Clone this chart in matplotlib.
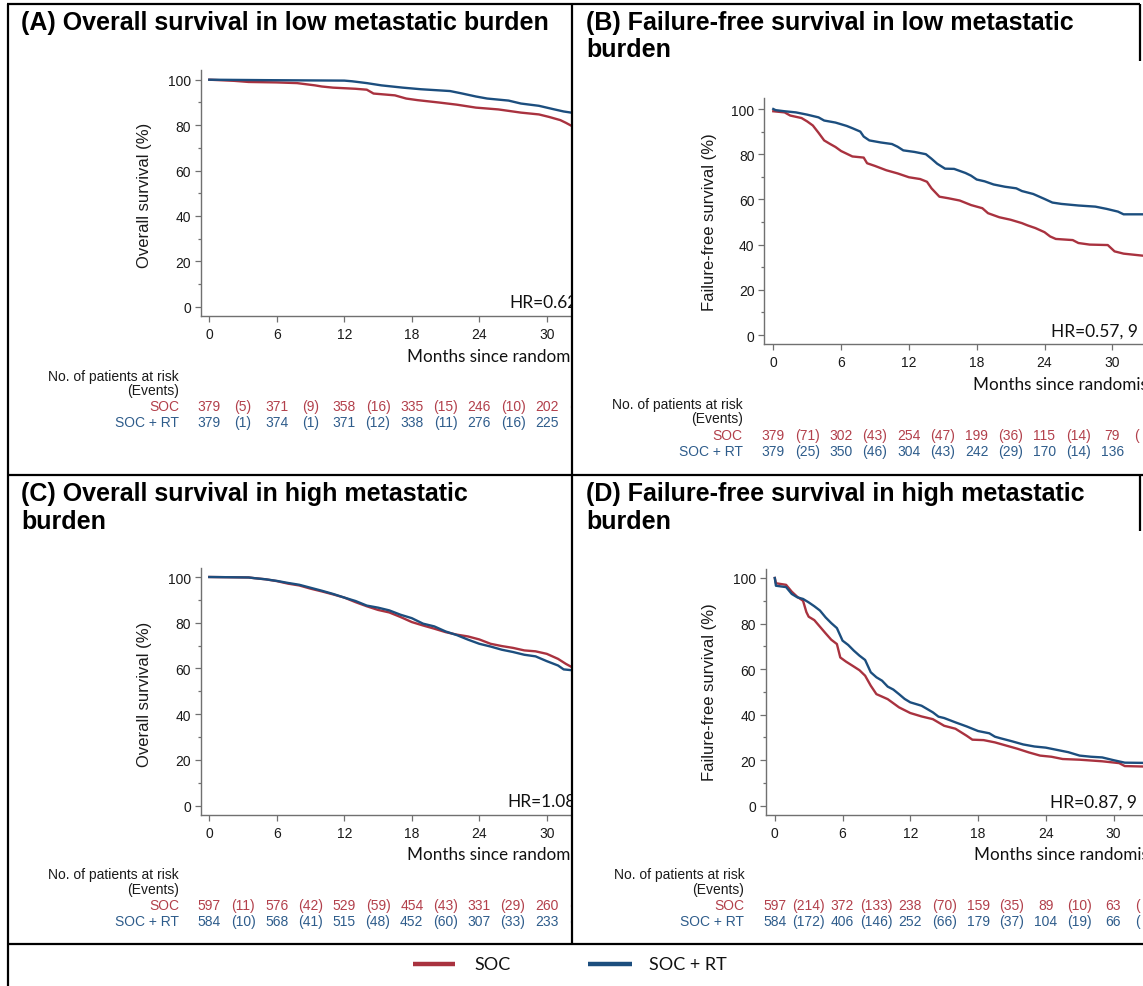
import matplotlib
matplotlib.use("Agg")
import matplotlib.pyplot as plt
from matplotlib.lines import Line2D
from matplotlib.transforms import blended_transform_factory
from matplotlib.ticker import MultipleLocator

plt.rcParams['font.family'] = ['Liberation Sans', 'DejaVu Sans']

W, H = 1143, 987

# ---------------- data ----------------
month_ticks = [0, 6, 12, 18, 24, 30]
event_mid = [3, 9, 15, 21, 27]

# (A) Overall survival, low metastatic burden
a_soc_t = [0, 2.2, 3.5, 6, 7.8, 9.4, 10, 11, 13, 14, 14.6, 16.5, 17.5, 18.5, 20.5, 22, 23.7, 25.7, 27.7, 29.3, 30.2, 31.2, 31.7, 32.3]
a_soc_s = [100, 99.5, 99, 98.8, 98.5, 97.5, 97, 96.5, 96, 95.6, 93.9, 93.1, 91.7, 91, 89.9, 89, 87.7, 86.9, 85.5, 84.7, 83.6, 82.2, 81, 79.4]
a_rt_t = [0, 5, 12, 12.7, 14, 15.3, 17.2, 18.8, 21.4, 22.4, 23.7, 24.7, 26.6, 27.7, 29.3, 30.6, 31.5, 32.3]
a_rt_s = [100, 99.8, 99.6, 99.3, 98.5, 97.5, 96.5, 95.8, 95, 94, 92.6, 91.7, 90.8, 89.5, 88.5, 87, 86, 85.4]
a_soc_risk = [379, 371, 358, 335, 246, 202]
a_soc_events = [5, 9, 16, 15, 10]
a_rt_risk = [379, 374, 371, 338, 276, 225]
a_rt_events = [1, 1, 12, 11, 16]
a_hr = "HR=0.62"

# (B) Failure-free survival, low metastatic burden
b_soc_t = [0, 1, 1.5, 2.5, 3, 3.5, 4, 4.5, 5, 5.5, 6, 6.5, 7, 8, 8.3, 9, 10, 11, 12, 13, 13.6, 14, 14.7, 15.5,
           16.5, 17, 17.5, 18.5, 19, 20, 21, 22, 22.5, 23.2, 24, 24.5, 25, 26.5, 27, 28, 29.6, 30.2, 31, 32.7]
b_soc_s = [99, 98.5, 97.1, 96, 94.5, 92.7, 89.5, 86.1, 84.6, 83.2, 81.4, 80.2, 79, 78.5, 76, 74.8, 72.9, 71.5, 69.8, 69, 67.8, 64.9, 61.2, 60.5,
           59.5, 58.5, 57.5, 56.1, 53.9, 52.1, 51, 49.5, 48.5, 47.3, 45.5, 43.6, 42.5, 42, 40.7, 40, 39.8, 37, 36, 35.1]
b_rt_t = [0, 0.2, 1, 2, 3, 4, 4.5, 5.5, 6.5, 7, 7.7, 8, 8.5, 9.5, 10.5, 11, 11.5, 12.5, 13.5, 14, 14.5, 15.2, 16, 17, 17.5,
          18, 18.7, 19.5, 20.5, 21.5, 22, 23, 24, 24.7, 25.5, 27, 28.5, 29.5, 30.5, 31, 32.7]
b_rt_s = [100, 99.5, 99, 98.5, 97.5, 96.3, 94.9, 94, 92.5, 91.5, 90, 87.8, 86.1, 85.2, 84.5, 83.3, 81.7, 81, 80, 78, 75.8, 73.6, 73.5, 71.7, 70.5,
          68.8, 68, 66.6, 65.6, 64.9, 63.7, 62.4, 60.2, 58.6, 58, 57.3, 56.8, 55.8, 54.6, 53.4, 53.4]
b_soc_risk = [379, 302, 254, 199, 115, 79]
b_soc_events = [71, 43, 47, 36, 14]
b_rt_risk = [379, 350, 304, 242, 170, 136]
b_rt_events = [25, 46, 43, 29, 14]
b_hr = "HR=0.57, 9"

# (C) Overall survival, high metastatic burden
c_soc_t = [0, 3.5, 4, 5, 6, 7, 8, 9, 10, 11, 12, 13, 14, 15, 16, 17, 18, 19, 20, 21, 22, 23, 24, 25, 26, 27, 28, 29, 30, 31, 31.7, 32.3]
c_soc_s = [100, 99.8, 99.5, 99, 98.2, 97.1, 96.3, 94.9, 93.7, 92.4, 91, 89, 87.2, 85.6, 84.5, 82.5, 80.3, 78.8, 77.4, 75.9, 74.8, 74, 72.7,
           70.8, 69.8, 69, 67.9, 67.5, 66.4, 64.2, 62, 60.4]
c_rt_t = [0, 3.5, 4, 5, 6, 7, 8, 9, 10, 11, 12, 13, 14, 15, 16, 17, 18, 19, 20, 21, 22, 23, 24, 25, 26, 27, 28, 29, 30, 31, 31.5, 32.3]
c_rt_s = [100, 99.8, 99.5, 99, 98.3, 97.4, 96.6, 95.3, 94, 92.6, 91, 89.5, 87.5, 86.6, 85.4, 83.5, 82, 79.6, 78.4, 76.2, 74.6, 72.6, 70.8,
          69.6, 68.2, 67.2, 66, 65.3, 63.2, 61.3, 59.6, 59.2]
c_soc_risk = [597, 576, 529, 454, 331, 260]
c_soc_events = [11, 42, 59, 43, 29]
c_rt_risk = [584, 568, 515, 452, 307, 233]
c_rt_events = [10, 41, 48, 60, 33]
c_hr = "HR=1.08"

# (D) Failure-free survival, high metastatic burden
d_soc_t = [0, 0.1, 1, 1.5, 2, 2.5, 2.8, 3, 3.5, 4, 4.5, 5, 5.5, 5.8, 6.3, 7, 7.5, 8, 8.5, 9, 9.5, 10, 11, 12, 13, 14, 15, 16, 17,
           17.5, 18.5, 19.5, 20.5, 21.5, 22.5, 23.5, 24.5, 25.5, 27, 29, 30.5, 31, 32.7]
d_soc_s = [100, 97.7, 97, 94, 91.7, 90, 85, 83, 81.5, 78.6, 75.7, 72.9, 71, 65.1, 63.3, 61.1, 59.5, 57.1, 52.7, 49, 47.9, 46.8, 43.2,
           40.7, 39.2, 38, 35.1, 33.8, 30.7, 29, 28.8, 27.8, 26.4, 25, 23.4, 22, 21.5, 20.5, 20.2, 19.5, 18.7, 17.4, 17.2]
d_rt_t = [0, 0.1, 1, 1.5, 2, 2.5, 3, 3.5, 4, 4.5, 5, 5.5, 6, 6.5, 7, 7.5, 8, 8.5, 9, 9.5, 10, 10.5, 11, 11.5, 12, 13, 14, 14.5, 15,
          16, 17, 18, 19, 19.5, 20, 21, 22, 23, 24, 25, 26, 27, 28, 29, 30, 31, 32.7]
d_rt_s = [100, 96.6, 96, 93, 91.5, 90.8, 89.3, 87.6, 85.7, 82.7, 80.2, 78, 72.5, 70.6, 68.1, 65.9, 64, 58.6, 56.4, 54.9, 52.3, 51, 49,
          46.9, 45.4, 43.9, 41, 39.1, 38.5, 36.6, 34.8, 32.8, 31.8, 30.3, 29.6, 28.3, 26.9, 26, 25.5, 24.5, 23.5, 22, 21.5, 21.2, 20, 18.9, 18.8]
d_soc_risk = [597, 372, 238, 159, 89, 63]
d_soc_events = [214, 133, 70, 35, 10]
d_rt_risk = [584, 406, 252, 179, 104, 66]
d_rt_events = [172, 146, 66, 37, 19]
d_hr = "HR=0.87, 9"

labels = ["SOC", "SOC + RT"]

# ---------------- style ----------------
RED = '#A9323F'
BLUE = '#1C4E7E'
RED_T = '#B2404B'
BLUE_T = '#2E5C8B'
SPINE = '#707070'
ARIAL = ['Liberation Sans', 'DejaVu Sans']
CALI = ['Lato', 'DejaVu Sans']

fig = plt.figure(figsize=(W / 100, H / 100), dpi=100)
fig.patch.set_facecolor('white')


def fy(ypx):
    return 1 - ypx / H


def add_px_axes(x0, y0, x1, y1):
    return fig.add_axes([x0 / W, 1 - y1 / H, (x1 - x0) / W, (y1 - y0) / H])


def panel(box, axbox, m0, ppm, p0, ppp, title_lines, title_x, title_base, ylabel, ylab_xy,
          soc_t, soc_s, rt_t, rt_s, soc_risk, soc_ev, rt_risk, rt_ev, partial, hr, hr_x,
          months_y, months_x, risk_y):
    pax = add_px_axes(*box)
    pax.set_axis_off()
    ax = add_px_axes(*axbox)
    ax.set_facecolor('none')
    x0, ytop, x1, ybot = axbox
    ax.set_xlim((x0 - m0) / ppm, (x1 - m0) / ppm)
    ax.set_ylim((p0 - ybot) / ppp, (p0 - ytop) / ppp)
    ax.plot(soc_t, soc_s, color=RED, lw=1.7)
    ax.plot(rt_t, rt_s, color=BLUE, lw=1.7)
    for s in ['top', 'right']:
        ax.spines[s].set_visible(False)
    for s in ['left', 'bottom']:
        ax.spines[s].set_color(SPINE)
        ax.spines[s].set_linewidth(1.0)
    ax.set_xticks(month_ticks)
    ax.set_yticks([0, 20, 40, 60, 80, 100])
    ax.yaxis.set_minor_locator(MultipleLocator(10))
    ax.tick_params(axis='both', which='major', length=4.5, width=0.9, color=SPINE,
                   labelsize=10, labelcolor='#1a1a1a')
    ax.tick_params(axis='y', which='minor', length=2.5, width=0.9, color=SPINE)
    ax.tick_params(axis='x', pad=3.6)
    ax.tick_params(axis='y', pad=2.6)

    ax.text(hr_x, 2.0, hr, ha='left', va='center', fontsize=12.5, family=CALI,
            color='#111111', clip_on=True)

    tr = blended_transform_factory(ax.transData, fig.transFigure)
    pax.text(months_x, fy(months_y), "Months since randomisation", transform=tr,
             ha='left', va='center', fontsize=12.3, family=CALI, color='#111111', clip_on=True)

    for i, line in enumerate(title_lines):
        fig.text(title_x / W, fy(title_base[i]), line, ha='left', va='baseline',
                 fontsize=18, fontweight='bold', family=ARIAL, color='black')

    fig.text(ylab_xy[0] / W, fy(ylab_xy[1]), ylabel, rotation=90, ha='center', va='center',
             fontsize=12, family=ARIAL, color='#1a1a1a')

    lab_x = axbox[0] - 21.5
    hy, ey, sy, ry = risk_y
    fig.text(lab_x / W, fy(hy), "No. of patients at risk", ha='right', va='center',
             fontsize=10, family=ARIAL, color='#1a1a1a')
    fig.text(lab_x / W, fy(ey), "(Events)", ha='right', va='center',
             fontsize=10, family=ARIAL, color='#1a1a1a')
    fig.text(lab_x / W, fy(sy), labels[0], ha='right', va='center',
             fontsize=10, family=ARIAL, color=RED_T)
    fig.text(lab_x / W, fy(ry), labels[1], ha='right', va='center',
             fontsize=10, family=ARIAL, color=BLUE_T)
    for row_y, risk, ev, col, part in [(sy, soc_risk, soc_ev, RED_T, partial[0]),
                                       (ry, rt_risk, rt_ev, BLUE_T, partial[1])]:
        for m, n in zip(month_ticks, risk):
            pax.text(m, fy(row_y), str(n), transform=tr, ha='center', va='center',
                     fontsize=10, family=ARIAL, color=col, clip_on=True)
        for m, e in zip(event_mid, ev):
            pax.text(m, fy(row_y), "(%d)" % e, transform=tr, ha='center', va='center',
                     fontsize=10, family=ARIAL, color=col, clip_on=True)
        if part:
            pax.text(31.95, fy(row_y), "(", transform=tr, ha='left', va='center',
                     fontsize=10, family=ARIAL, color=col, clip_on=True)
    return ax


ax_a = panel((7, 5, 572, 476), (200.7, 71, 571, 316.7), 209.3, 11.25, 307.7, 2.27,
             ["(A) Overall survival in low metastatic burden"], 21, [30],
             "Overall survival (%)", (145, 195),
             a_soc_t, a_soc_s, a_rt_t, a_rt_s, a_soc_risk, a_soc_events, a_rt_risk, a_rt_events,
             (True, False), a_hr, 26.7, 357, 17.6, (377, 391, 407, 423))

ax_b = panel((572, 5, 1143, 476), (764.3, 99, 1143, 345), 773.3, 11.3, 336, 2.26,
             ["(B) Failure-free survival in low metastatic", "burden"], 586.5, [30, 57],
             "Failure-free survival (%)", (709.5, 222),
             b_soc_t, b_soc_s, b_rt_t, b_rt_s, b_soc_risk, b_soc_events, b_rt_risk, b_rt_events,
             (True, False), b_hr, 24.6, 385, 17.7, (405, 419, 436, 452))

ax_c = panel((7, 476, 572, 945), (200.7, 569, 571, 815.7), 209.3, 11.25, 806.7, 2.287,
             ["(C) Overall survival in high metastatic", "burden"], 21, [501, 529],
             "Overall survival (%)", (145, 694),
             c_soc_t, c_soc_s, c_rt_t, c_rt_s, c_soc_risk, c_soc_events, c_rt_risk, c_rt_events,
             (True, True), c_hr, 26.5, 855, 17.6, (875, 890, 906, 922))

ax_d = panel((572, 476, 1143, 945), (765.8, 570, 1143, 815.7), 774.8, 11.29, 806.7, 2.277,
             ["(D) Failure-free survival in high metastatic", "burden"], 586.5, [501, 529],
             "Failure-free survival (%)", (709.5, 692.5),
             d_soc_t, d_soc_s, d_rt_t, d_rt_s, d_soc_risk, d_soc_events, d_rt_risk, d_rt_events,
             (True, True), d_hr, 24.4, 855, 17.6, (875, 890, 906, 922))


def hline(y, x0, x1, lw=1.6):
    fig.add_artist(Line2D([x0 / W, x1 / W], [fy(y), fy(y)], transform=fig.transFigure,
                          color='black', lw=lw, solid_capstyle='butt'))


def vline(x, y0, y1, lw=1.6):
    fig.add_artist(Line2D([x / W, x / W], [fy(y0), fy(y1)], transform=fig.transFigure,
                          color='black', lw=lw, solid_capstyle='butt'))


hline(5, 7, 1140)
vline(7.5, 5, 987)
vline(572, 5, 945)
vline(1140, 5, 62)
hline(476, 7, 1143)
vline(1140, 476, 532)
hline(945, 7, 1143)

fig.add_artist(Line2D([413 / W, 455 / W], [fy(965), fy(965)], transform=fig.transFigure,
                      color=RED, lw=3.2, solid_capstyle='butt'))
fig.text(474 / W, fy(965), labels[0], ha='left', va='center', fontsize=13, family=CALI, color='#111111')
fig.add_artist(Line2D([588 / W, 632 / W], [fy(965), fy(965)], transform=fig.transFigure,
                      color=BLUE, lw=3.2, solid_capstyle='butt'))
fig.text(649 / W, fy(965), labels[1], ha='left', va='center', fontsize=13, family=CALI, color='#111111')

fig.savefig("out.png", dpi=100, facecolor='white')
